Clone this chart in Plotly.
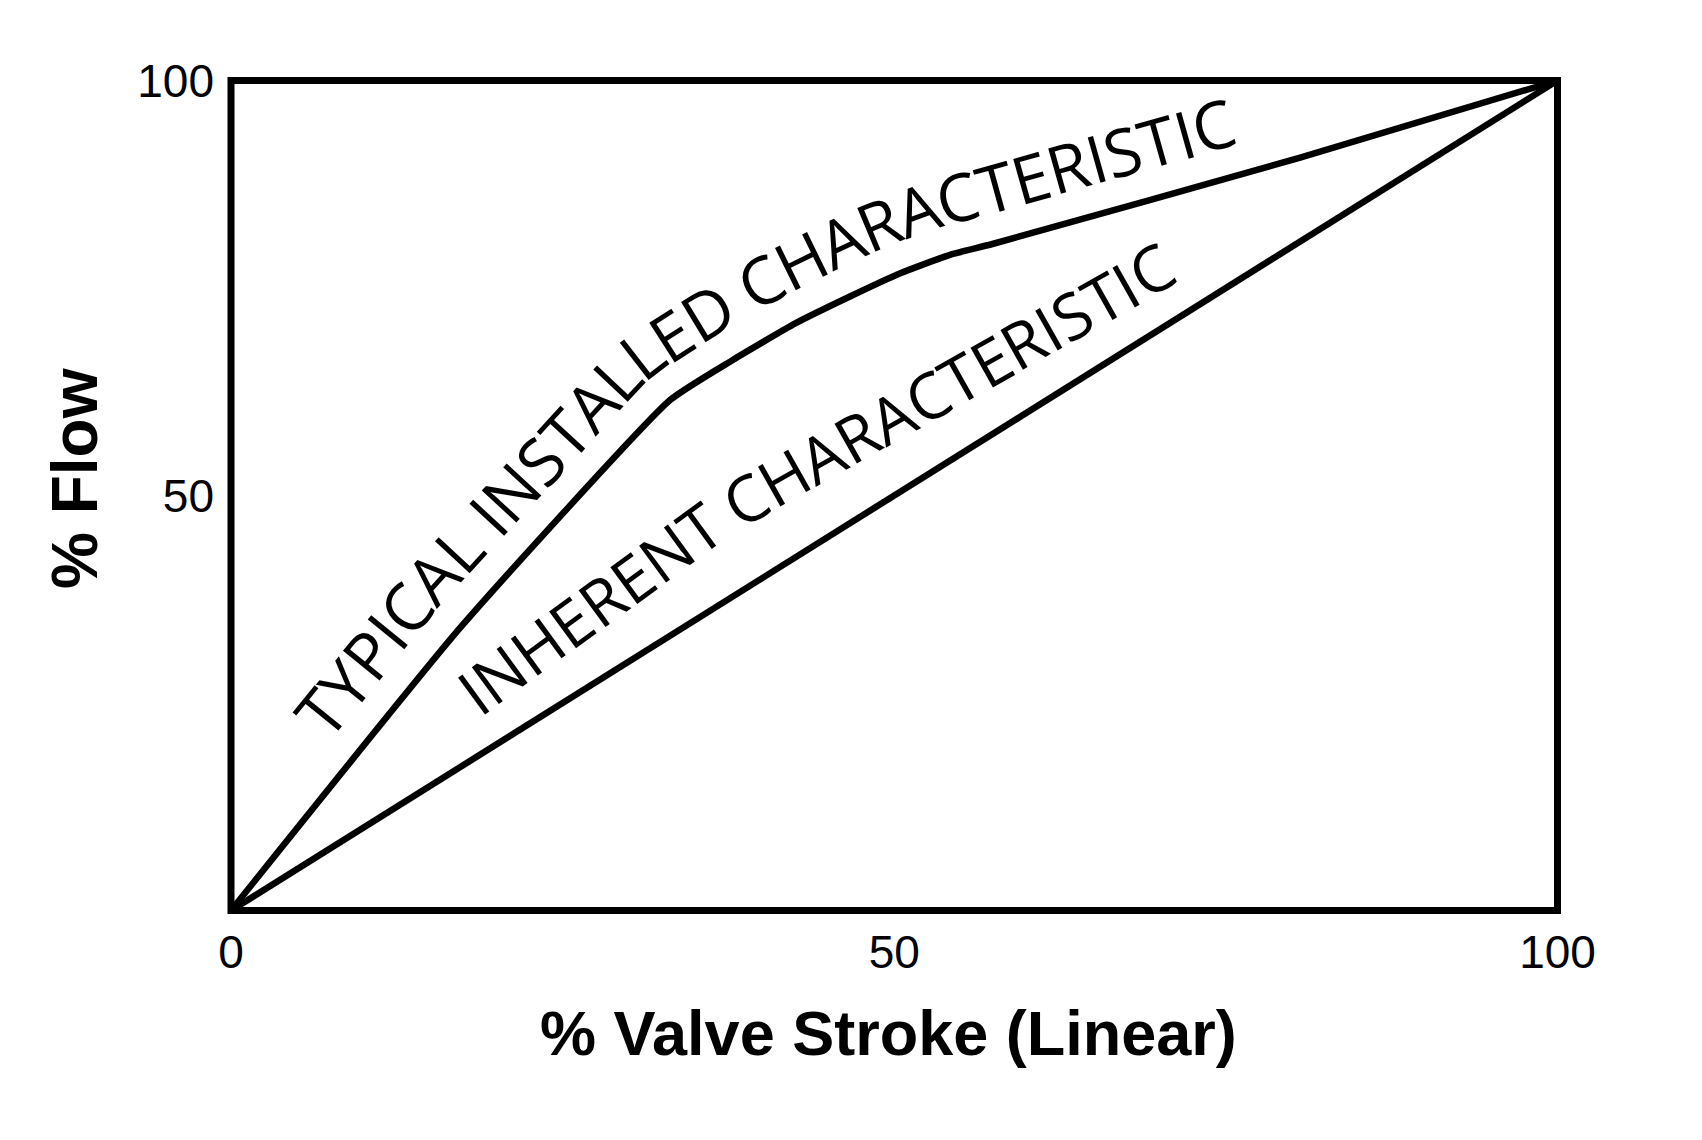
import math
import glob
import bisect
import plotly.graph_objects as go

# ---------------- data ----------------
stroke_inherent = [0, 100]
flow_inherent = [0, 100]
stroke_installed = [0, 17.3, 33.1, 37.8, 42.5, 46.7, 50.5, 54.2, 57.4, 80.6, 100]
flow_installed = [0, 34.1, 61.5, 66.3, 70.7, 74.0, 76.8, 79.0, 80.3, 90.7, 100]
x_tick_vals = [0, 50, 100]
x_tick_text = ["0", "50", "100"]
y_tick_vals = [50, 100]
y_tick_text = ["50", "100"]
label_installed = "TYPICAL INSTALLED CHARACTERISTIC"
label_inherent = "INHERENT CHARACTERISTIC"
title_x = "% Valve Stroke (Linear)"
title_y = "% Flow"

# baseline guide for the inherent label (data coordinates of the text baseline)
inherent_label_guide_x = [18.77, 37.84, 71.24]
inherent_label_guide_y = [23.1, 45.36, 75.48]

# ---------------- geometry ----------------
FIG_W, FIG_H = 1702, 1140
PAGE = 8  # page body margin: figure pixel = page pixel - 8
PX_X0, PX_X1 = 231.0 - PAGE, 1557.5 - PAGE
PX_YB, PX_YT = 910.5 - PAGE, 80.5 - PAGE
M_L, M_R, M_T, M_B = 215, 144, 65, 229
PLOT_W = FIG_W - M_L - M_R
PLOT_H = FIG_H - M_T - M_B
sx = (PX_X1 - PX_X0) / 100.0
sy = (PX_YB - PX_YT) / 100.0
x_range = [-(PX_X0 - M_L) / sx, 100 + ((FIG_W - M_R) - PX_X1) / sx]
y_range = [-((FIG_H - M_B) - PX_YB) / sy, 100 + (PX_YT - M_T) / sy]


def to_px(x, y):
    return PX_X0 + x * sx, PX_YB - y * sy


def to_data(px, py):
    return (px - PX_X0) / sx, (PX_YB - py) / sy


def to_paper(px, py):
    # px, py given in page pixels
    px -= PAGE
    py -= PAGE
    return (px - M_L) / PLOT_W, ((FIG_H - M_B) - py) / PLOT_H


# ---------------- text on a path ----------------
OPEN_SANS_EM = {"A": .633, "C": .631, "D": .735, "E": .556, "H": .738, "I": .279,
                "L": .546, "N": .754, "P": .613, "R": .635, "S": .539, "T": .556,
                "Y": .559, " ": .26}


def char_widths(text, size):
    try:
        from PIL import ImageFont
        cands = sorted(glob.glob("/usr/share/fonts/**/OpenSans-Regular.ttf", recursive=True)) + \
            sorted(glob.glob("/usr/share/fonts/**/OpenSans*.ttf", recursive=True))
        f = ImageFont.truetype(cands[0], size)
        return [f.getlength(c) for c in text]
    except Exception:
        return [OPEN_SANS_EM.get(c, 0.6) * size for c in text]


def resample(pts, step=0.5):
    out = [pts[0]]
    for (x0, y0), (x1, y1) in zip(pts[:-1], pts[1:]):
        L = math.hypot(x1 - x0, y1 - y0)
        n = max(1, int(L / step))
        for i in range(1, n + 1):
            t = i / n
            out.append((x0 + (x1 - x0) * t, y0 + (y1 - y0) * t))
    return out


def arclen(pts):
    s = [0.0]
    for a, b in zip(pts[:-1], pts[1:]):
        s.append(s[-1] + math.hypot(b[0] - a[0], b[1] - a[1]))
    return s


def interp(pts, s_arr, s):
    i = bisect.bisect_left(s_arr, s)
    i = min(max(i, 1), len(s_arr) - 1)
    s0, s1 = s_arr[i - 1], s_arr[i]
    t = 0 if s1 == s0 else (s - s0) / (s1 - s0)
    return (pts[i - 1][0] + (pts[i][0] - pts[i - 1][0]) * t,
            pts[i - 1][1] + (pts[i][1] - pts[i - 1][1]) * t)


def tangent(pts, s_arr, s, win):
    a = interp(pts, s_arr, max(0.0, s - win))
    b = interp(pts, s_arr, min(s_arr[-1], s + win))
    dx, dy = b[0] - a[0], b[1] - a[1]
    L = math.hypot(dx, dy)
    return dx / L, dy / L


def offset_path(pts, dist, win):
    pts = resample(pts)
    s = arclen(pts)
    out = []
    for p, si in zip(pts, s):
        tx, ty = tangent(pts, s, si, win)
        nx, ny = ty, -tx
        out.append((p[0] + nx * dist, p[1] + ny * dist))
    return out


def text_on_path(base_pts, text, size, dist, start, win=25, family="Open Sans"):
    path = offset_path(base_pts, dist, win)
    s_arr = arclen(path)
    widths = char_widths(text, size)
    anns = []
    cum = start
    for ch, w in zip(text, widths):
        sc = cum + w / 2
        cum += w
        if ch == " ":
            continue
        px, py = interp(path, s_arr, sc)
        tx, ty = tangent(path, s_arr, sc, win)
        ang = math.degrees(math.atan2(ty, tx))
        x, y = to_data(px, py)
        anns.append(dict(x=x, y=y, xref="x", yref="y", text=ch, textangle=ang,
                         showarrow=False, xanchor="center", yanchor="middle",
                         borderpad=0,
                         font=dict(family=family, size=size, color="black")))
    return anns


# ---------------- figure ----------------
fig = go.Figure()
fig.add_trace(go.Scatter(x=stroke_inherent, y=flow_inherent, mode="lines",
                         line=dict(color="black", width=6.5), hoverinfo="skip"))
fig.add_trace(go.Scatter(x=stroke_installed, y=flow_installed, mode="lines",
                         line=dict(color="black", width=6.5, shape="spline", smoothing=0.45),
                         hoverinfo="skip"))

installed_pts = [to_px(x, y) for x, y in zip(stroke_installed, flow_installed)]
anns = text_on_path(installed_pts, label_installed, 66,
                    dist=30 + 0.388 * 66, start=192)
guide_pts = [to_px(x, y) for x, y in zip(inherent_label_guide_x, inherent_label_guide_y)]
anns += text_on_path(guide_pts, label_inherent, 64,
                     dist=0.388 * 64, start=0, win=20)

tx, ty = to_paper(888, 1033)
anns.append(dict(x=tx, y=ty, xref="paper", yref="paper", text="<b>" + title_x + "</b>",
                 showarrow=False, xanchor="center", yanchor="middle",
                 font=dict(family="Liberation Sans, Arial", size=63, color="black")))
tx, ty = to_paper(75, 479)
anns.append(dict(x=tx, y=ty, xref="paper", yref="paper", text="<b>" + title_y + "</b>",
                 showarrow=False, xanchor="center", yanchor="middle", textangle=-90,
                 font=dict(family="Liberation Sans, Arial", size=64, color="black")))

fig.add_shape(type="rect", xref="x", yref="y", x0=0, x1=100, y0=0, y1=100,
              line=dict(color="black", width=7), layer="above")

fig.update_layout(
    width=FIG_W, height=FIG_H,
    margin=dict(l=M_L, r=M_R, t=M_T, b=M_B, pad=0, autoexpand=False),
    paper_bgcolor="white", plot_bgcolor="white",
    showlegend=False,
    annotations=anns,
    xaxis=dict(range=x_range, tickvals=x_tick_vals, ticktext=x_tick_text,
               showgrid=False, zeroline=False, showline=False, ticks="",
               ticklabelstandoff=2,
               tickfont=dict(family="Liberation Sans, Arial", size=46, color="black")),
    yaxis=dict(range=y_range, tickvals=y_tick_vals, ticktext=y_tick_text,
               showgrid=False, zeroline=False, showline=False, ticks="",
               ticklabelstandoff=8,
               tickfont=dict(family="Liberation Sans, Arial", size=46, color="black")),
)

fig.write_html("out.html")
